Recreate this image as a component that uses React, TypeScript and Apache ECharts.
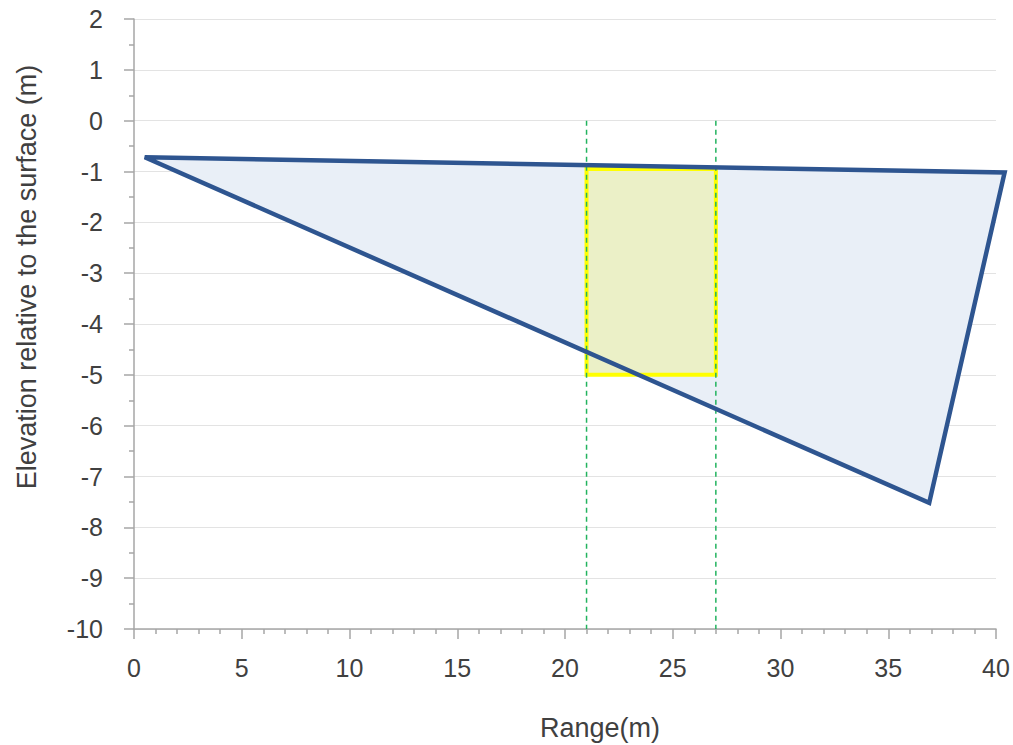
import React, { useEffect, useRef } from "react";
import * as echarts from "echarts";

// Triangle outline (Range m, Elevation m)
const triX = [0.5, 40.4, 36.9];
const triY = [-0.72, -1.02, -7.52];

// Highlighted rectangle
const rectX = [21, 27];
const rectY = [-0.95, -5];

// Dashed verticals
const dashX = [21, 27];
const dashY = [0, -10];

const xTitle = "Range(m)";
const yTitle = "Elevation relative to the surface (m)";

const FONT = "Liberation Sans";

export default function App() {
  const ref = useRef<HTMLDivElement>(null);
  useEffect(() => {
    const chart = echarts.init(ref.current!, undefined, { renderer: "svg" });
    const triData = triX.map((x, i) => [x, triY[i]]);
    const option: any = {
      animation: false,
      grid: { left: 134, right: 17, top: 19, bottom: 116, containLabel: false },
      xAxis: {
        type: "value",
        min: 0,
        max: 40,
        interval: 5,
        axisLine: { show: true, onZero: false, lineStyle: { color: "#A6A6A6", width: 1.5 } },
        axisTick: { show: true, length: 10, lineStyle: { color: "#A6A6A6", width: 1.5 } },
        minorTick: { show: true, splitNumber: 5, length: 5, lineStyle: { color: "#A6A6A6", width: 1.5 } },
        splitLine: { show: false },
        axisLabel: { color: "#404040", fontSize: 25, fontFamily: FONT, margin: 26 },
      },
      yAxis: {
        type: "value",
        min: -10,
        max: 2,
        interval: 1,
        axisLine: { show: true, onZero: false, lineStyle: { color: "#A6A6A6", width: 1.5 } },
        axisTick: { show: true, length: 10, lineStyle: { color: "#A6A6A6", width: 1.5 } },
        minorTick: { show: true, splitNumber: 2, length: 5, lineStyle: { color: "#A6A6A6", width: 1.5 } },
        splitLine: { show: true, lineStyle: { color: "#E3E3E3", width: 1.2 } },
        axisLabel: { color: "#404040", fontSize: 25, fontFamily: FONT, margin: 31 },
      },
      graphic: [
        {
          type: "text",
          x: 27,
          y: 277,
          rotation: Math.PI / 2,
          style: {
            text: yTitle,
            fontSize: 27,
            fontFamily: FONT,
            fill: "#404040",
            align: "center",
            verticalAlign: "middle",
          },
        },
        {
          type: "text",
          x: 600,
          y: 728,
          style: {
            text: xTitle,
            fontSize: 27,
            fontFamily: FONT,
            fill: "#404040",
            align: "center",
            verticalAlign: "middle",
          },
        },
      ],
      series: [
        {
          type: "custom",
          z: 1,
          clip: false,
          data: triData,
          renderItem: (params: any, api: any) => {
            if (params.dataIndex !== 0) return null;
            const pts = triX.map((x, i) => api.coord([x, triY[i]]));
            return { type: "polygon", shape: { points: pts }, style: { fill: "#E9EFF7", stroke: "none" } };
          },
        },
        {
          type: "custom",
          z: 2,
          clip: false,
          data: [[rectX[0], rectY[0], rectX[1], rectY[1]]],
          renderItem: (params: any, api: any) => {
            const p1 = api.coord([api.value(0), api.value(1)]);
            const p2 = api.coord([api.value(2), api.value(3)]);
            return {
              type: "rect",
              shape: { x: p1[0], y: p1[1], width: p2[0] - p1[0], height: p2[1] - p1[1] },
              style: { fill: "#EBF0C7", stroke: "#FFFF00", lineWidth: 4 },
            };
          },
        },
        ...dashX.map((x) => ({
          type: "line",
          z: 3,
          data: dashY.map((y) => [x, y]),
          symbol: "none",
          lineStyle: { color: "#22B35E", width: 1.5, type: [5, 4] },
          silent: true,
        })),
        {
          type: "custom",
          z: 4,
          clip: false,
          data: triData,
          renderItem: (params: any, api: any) => {
            if (params.dataIndex !== 0) return null;
            const pts = triX.map((x, i) => api.coord([x, triY[i]]));
            return {
              type: "polygon",
              shape: { points: pts },
              style: { fill: "none", stroke: "#2E5590", lineWidth: 4.5, lineJoin: "miter" },
            };
          },
        },
      ],
    };
    chart.setOption(option);
    return () => chart.dispose();
  }, []);
  return (
    <div
      ref={ref}
      style={{ position: "absolute", left: 0, top: 0, width: 1013, height: 745 }}
    />
  );
}
